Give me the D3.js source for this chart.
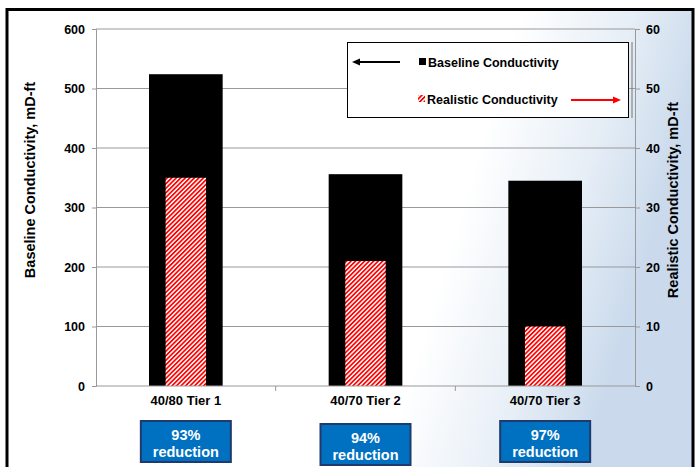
<!DOCTYPE html>
<html>
<head>
<meta charset="utf-8">
<script src="https://cdn.jsdelivr.net/npm/d3@7"></script>
<style>
  body { margin: 0; background: #fff; }
  svg text { font-family: "Liberation Sans", Arial, sans-serif; font-weight: bold; }
</style>
</head>
<body>
<svg id="chart" width="697" height="467"></svg>
<script>
// chart data
const categories = ["40/80 Tier 1", "40/70 Tier 2", "40/70 Tier 3"];
const baseline = [524, 356, 345];
const realistic = [35, 21, 10];
const reductions = ["93%", "94%", "97%"];
const leftTicks = [0, 100, 200, 300, 400, 500, 600];
const rightTicks = [0, 10, 20, 30, 40, 50, 60];

const svg = d3.select("#chart");
const defs = svg.append("defs");

// background: white fading into a pale sky blue on the right
const bg = defs.append("linearGradient").attr("id", "sky")
  .attr("x1", 0).attr("y1", 0).attr("x2", 1).attr("y2", 0.2);
bg.append("stop").attr("offset", "0.72").attr("stop-color", "#ffffff");
bg.append("stop").attr("offset", "0.88").attr("stop-color", "#e6eef6");
bg.append("stop").attr("offset", "1").attr("stop-color", "#cadaec");

const hatch = defs.append("pattern").attr("id", "hatch")
  .attr("patternUnits", "userSpaceOnUse")
  .attr("width", 3.2).attr("height", 3.2)
  .attr("patternTransform", "rotate(45)");
hatch.append("rect").attr("width", 3.2).attr("height", 3.2).attr("fill", "#fff");
hatch.append("rect").attr("width", 1.7).attr("height", 3.2).attr("fill", "#ff0000");

svg.append("rect").attr("x", 7).attr("y", 9).attr("width", 686).attr("height", 458)
  .attr("fill", "url(#sky)");

// frame
svg.append("path").attr("d", "M7,467 V9.5 H693 V467")
  .attr("fill", "none").attr("stroke", "#000").attr("stroke-width", 3);

const margin = {left: 96, right: 635, top: 29, bottom: 386};

const x = d3.scaleBand().domain(categories)
  .range([margin.left, margin.right]).paddingInner(0).paddingOuter(0);
const yL = d3.scaleLinear().domain([0, 600]).range([margin.bottom, margin.top]);
const yR = d3.scaleLinear().domain([0, 60]).range([margin.bottom, margin.top]);

// gridlines
svg.append("g").selectAll("line").data(leftTicks.slice(1)).join("line")
  .attr("x1", margin.left).attr("x2", margin.right)
  .attr("y1", d => yL(d)).attr("y2", d => yL(d))
  .attr("stroke", "#999").attr("stroke-width", 1);

// baseline bars
const bw = x.bandwidth() * 0.41;
svg.append("g").selectAll("rect").data(baseline).join("rect")
  .attr("x", (d, i) => x(categories[i]) + x.bandwidth() / 2 - bw / 2)
  .attr("width", bw)
  .attr("y", d => yL(d))
  .attr("height", d => yL(0) - yL(d))
  .attr("fill", "#000");

// realistic bars
const rw = x.bandwidth() * 0.225;
svg.append("g").selectAll("rect").data(realistic).join("rect")
  .attr("x", (d, i) => x(categories[i]) + x.bandwidth() / 2 - rw / 2)
  .attr("width", rw)
  .attr("y", d => yR(d))
  .attr("height", d => yR(0) - yR(d))
  .attr("fill", "url(#hatch)");

// axes
const gL = svg.append("g").attr("transform", `translate(${margin.left},0)`)
  .call(d3.axisLeft(yL).tickValues(leftTicks).tickSize(4).tickPadding(7));
const gR = svg.append("g").attr("transform", `translate(${margin.right},0)`)
  .call(d3.axisRight(yR).tickValues(rightTicks).tickSize(5).tickPadding(6));
const gB = svg.append("g").attr("transform", `translate(0,${margin.bottom})`)
  .call(d3.axisBottom(x).tickSize(0).tickPadding(10));
gB.selectAll(".tick").each(function(d, i) {
  if (i > 0) {
    d3.select(this.parentNode).append("line")
      .attr("x1", x(d)).attr("x2", x(d)).attr("y1", 0).attr("y2", 5)
      .attr("stroke", "#999");
  }
});
[gL, gR, gB].forEach(g => {
  g.selectAll("path.domain").attr("stroke", "#999");
  g.selectAll(".tick line").attr("stroke", "#999");
  g.selectAll("text").attr("font-size", 12.5).attr("fill", "#000")
    .attr("font-family", "Liberation Sans, Arial, sans-serif").attr("font-weight", "bold");
});
gB.selectAll("text").attr("font-size", 13);
gB.select("path.domain").attr("d", `M${margin.left},0H${margin.right}`);

// axis titles
svg.append("text").attr("transform", "translate(35,180) rotate(-90)")
  .attr("text-anchor", "middle").attr("font-size", 14.5).text("Baseline Conductivity, mD-ft");
svg.append("text").attr("transform", "translate(678,200) rotate(-90)")
  .attr("text-anchor", "middle").attr("font-size", 14.5).text("Realistic Conductivity, mD-ft");

// legend
const lg = svg.append("g");
lg.append("rect").attr("x", 347.5).attr("y", 42.5).attr("width", 281).attr("height", 75)
  .attr("fill", "#fff").attr("stroke", "#000");
lg.append("line").attr("x1", 632).attr("x2", 632).attr("y1", 42).attr("y2", 118)
  .attr("stroke", "#777");
lg.append("line").attr("x1", 358).attr("x2", 400).attr("y1", 62).attr("y2", 62)
  .attr("stroke", "#000").attr("stroke-width", 2);
lg.append("path").attr("d", "M352,62 L360,58.5 L360,65.5 Z").attr("fill", "#000");
lg.append("rect").attr("x", 419).attr("y", 58).attr("width", 7).attr("height", 7).attr("fill", "#000");
lg.append("text").attr("x", 428).attr("y", 66.5).attr("font-size", 12.5).text("Baseline Conductivity");
lg.append("rect").attr("x", 418).attr("y", 95).attr("width", 7).attr("height", 7).attr("fill", "url(#hatch)");
lg.append("text").attr("x", 427).attr("y", 103.5).attr("font-size", 12.5).text("Realistic Conductivity");
lg.append("line").attr("x1", 571).attr("x2", 613).attr("y1", 100).attr("y2", 100)
  .attr("stroke", "#ff0000").attr("stroke-width", 2);
lg.append("path").attr("d", "M621,100 L613,96.5 L613,103.5 Z").attr("fill", "#ff0000");

// reduction boxes
const boxY = [421, 424, 421];
const boxes = svg.append("g").selectAll("g").data(reductions).join("g")
  .attr("transform", (d, i) => `translate(${x(categories[i]) + x.bandwidth() / 2 - 45},${boxY[i]})`);
boxes.append("rect").attr("width", 90).attr("height", 41)
  .attr("fill", "#0070c0").attr("stroke", "#1f3a6e").attr("stroke-width", 2);
boxes.append("text").attr("x", 45).attr("y", 19).attr("text-anchor", "middle")
  .attr("font-size", 14.5).attr("fill", "#fff").text(d => d);
boxes.append("text").attr("x", 45).attr("y", 36).attr("text-anchor", "middle")
  .attr("font-size", 14.5).attr("fill", "#fff").text("reduction");
</script>
</body>
</html>
